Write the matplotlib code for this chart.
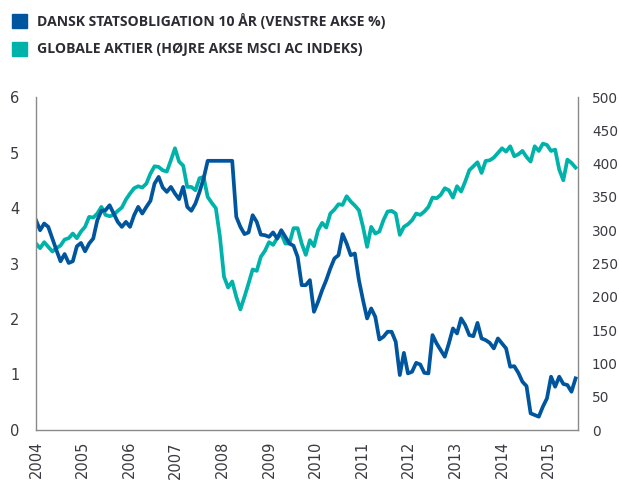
import matplotlib
matplotlib.use("Agg")
import matplotlib.pyplot as plt
import pandas as pd
from matplotlib.patches import Rectangle

# Danish 10y government bond yield (%), left axis
bond = [3.78, 3.6, 3.72, 3.66, 3.45, 3.24, 3.04, 3.17, 3.01, 3.04, 3.31, 3.37, 3.22, 3.36, 3.45,
        3.78, 3.95, 3.96, 4.05, 3.9, 3.75, 3.66, 3.75, 3.66, 3.87, 4.02, 3.9, 4.02, 4.13, 4.44,
        4.56, 4.37, 4.29, 4.38, 4.26, 4.16, 4.38, 4.02, 3.95, 4.08, 4.29, 4.53, 4.85, 4.85, 4.85,
        4.85, 4.85, 4.85, 4.85, 3.84, 3.66, 3.53, 3.56, 3.87, 3.75, 3.52, 3.51, 3.48, 3.56, 3.45,
        3.6, 3.48, 3.36, 3.32, 3.12, 2.61, 2.61, 2.7, 2.13, 2.31, 2.52, 2.7, 2.91, 3.09, 3.15,
        3.53, 3.36, 3.15, 3.18, 2.7, 2.34, 2.01, 2.19, 2.04, 1.63, 1.68, 1.77, 1.77, 1.59, 0.99,
        1.39, 1.02, 1.05, 1.21, 1.18, 1.03, 1.02, 1.71, 1.56, 1.44, 1.32, 1.56, 1.83, 1.74, 2.01,
        1.89, 1.71, 1.69, 1.93, 1.65, 1.62, 1.57, 1.47, 1.65, 1.56, 1.47, 1.14, 1.15, 1.03, 0.87,
        0.79, 0.3, 0.27, 0.24, 0.42, 0.57, 0.96, 0.78, 0.96, 0.83, 0.81, 0.69, 0.93]

# MSCI AC world index, right axis
stocks = [280, 273, 282, 275, 268, 273, 277, 286, 288, 295, 288, 298, 305, 320, 319,
          325, 335, 323, 321, 323, 329, 334, 346, 355, 363, 366, 364, 370, 385, 396,
          395, 390, 388, 405, 423, 403, 397, 365, 365, 360, 378, 380, 350, 341, 333,
          290, 230, 214, 223, 200, 181, 200, 220, 241, 239, 260, 269, 282, 278, 288,
          295, 280, 280, 303, 303,
          280, 263, 285, 276, 300, 311, 304, 325, 331, 339, 338, 351, 343, 337, 330,
          305, 275, 305, 295, 298, 315, 328, 329, 325,
          293, 305, 309, 315, 325, 323, 328, 335, 349, 348, 353, 363, 360, 349, 366,
          358, 373, 390, 396, 402, 386, 404,
          405, 409, 416, 423, 418, 426, 411, 414, 419, 410, 403, 426, 419, 430, 428,
          419, 421, 391, 375, 406, 401, 394]

years = [str(y) for y in range(2004, 2016)]
start, end = "2004-01-01", "2015-08-01"
legend_labels = ["DANSK STATSOBLIGATION 10 ÅR (VENSTRE AKSE %)",
                 "GLOBALE AKTIER (HØJRE AKSE MSCI AC INDEKS)"]

dates = pd.date_range(start, end, periods=len(bond))
dates_s = pd.date_range(start, end, periods=len(stocks))

c_bond = "#00569E"
c_stock = "#00B3AA"
c_text = "#3a3a42"
c_spine = "#8a8a8a"

fig = plt.figure(figsize=(6.19, 4.88), dpi=100)
ax = fig.add_axes([36 / 619, 1 - 430 / 488, (578 - 36) / 619, (430 - 97) / 488])
ax2 = ax.twinx()
ax.set_zorder(ax2.get_zorder() + 1)
ax.patch.set_visible(False)

ax2.plot(dates_s, stocks, color=c_stock, lw=2.7, solid_joinstyle="round")
ax.plot(dates, bond, color=c_bond, lw=2.7, solid_joinstyle="round")

ax.set_ylim(0, 6)
ax2.set_ylim(0, 500)
ax.set_yticks(range(0, 7))
ax2.set_yticks(range(0, 501, 50))
ax.set_xlim(pd.Timestamp("2004-01-01"), pd.Timestamp("2015-08-20"))
ax.set_xticks([pd.Timestamp(f"{y}-01-01") for y in years])
ax.set_xticklabels(years, rotation=90, va="top", ha="center")

for a in (ax, ax2):
    a.spines["top"].set_visible(False)
    for s in a.spines.values():
        s.set_color(c_spine)
        s.set_linewidth(1.0)
    a.tick_params(length=0, colors=c_text, labelsize=10.5)
ax.spines["right"].set_visible(False)
ax2.spines["left"].set_visible(False)
ax2.spines["bottom"].set_visible(False)
ax.tick_params(axis="y", pad=12)
ax.tick_params(axis="x", pad=8)
ax2.tick_params(axis="y", pad=10, labelsize=9.8)

# legend
for i, (lab, col) in enumerate(zip(legend_labels, [c_bond, c_stock])):
    y = 488 - 21 - i * 28
    fig.patches.append(Rectangle((12 / 619, (y - 7) / 488), 15 / 619, 14 / 488,
                                 transform=fig.transFigure, color=col))
    fig.text(37 / 619, y / 488, lab, fontsize=10.1, fontweight="bold",
             color="#2c2c34", va="center", ha="left", family="Open Sans")

fig.savefig("out.png", dpi=100)
